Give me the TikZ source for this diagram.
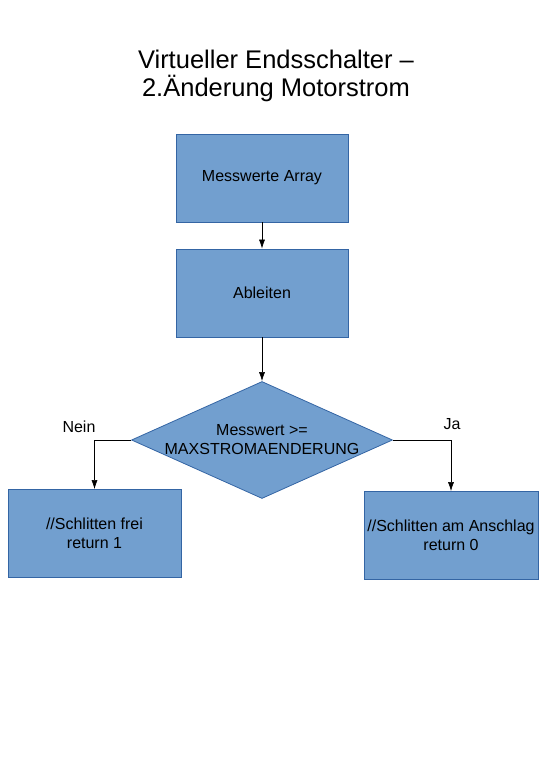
\documentclass[tikz,border=0pt]{standalone}
\usepackage{fontspec}
\setmainfont{Liberation Sans}
\usetikzlibrary{shapes.geometric,arrows.meta}

\definecolor{boxfill}{HTML}{729FCF}
\definecolor{boxline}{HTML}{3465A4}

\begin{document}
\begin{tikzpicture}[
x=1pt,y=-1pt,
every node/.style={
align=center,
font=\fontsize{16}{19}\selectfont
},
block/.style={
draw=boxline,
fill=boxfill,
line width=0.8pt,
minimum width=172pt,
minimum height=88pt
},
decision/.style={
diamond,
draw=boxline,
fill=boxfill,
line width=0.8pt,
inner sep=-2pt,
shape aspect=2.23,
minimum width=261pt,
minimum height=117pt
},
arr/.style={-{Latex[length=9pt,width=6pt]},line width=0.6pt}
]

\useasboundingbox (0,0) rectangle (550,777);

\node[font=\fontsize{25.5}{28}\selectfont] (title) at (276,76)
{Virtueller Endsschalter --\\2.Änderung Motorstrom};

\node[block] (M) at (262,178)
{Messwerte Array};

\node[block] (A) at (262,293)
{Ableiten};

\node[decision] (D) at (262,440)
{Messwert >=\\MAXSTROMAENDERUNG};

\node[block,minimum width=173pt] (N) at (94.5,533.5)
{//Schlitten frei\\return 1};

\node[block,minimum width=173pt] (J) at (451,535.5)
{//Schlitten am Anschlag\\return 0};

\draw[arr] (M) -- (A);
\draw[arr] (A) -- (D);
\draw[arr] (D.west) -| (N.north);
\draw[arr] (D.east) -| (J.north);

\node (nein) at (79,427) {Nein};
\node (ja) at (452,424) {Ja};

\end{tikzpicture}
\end{document}
